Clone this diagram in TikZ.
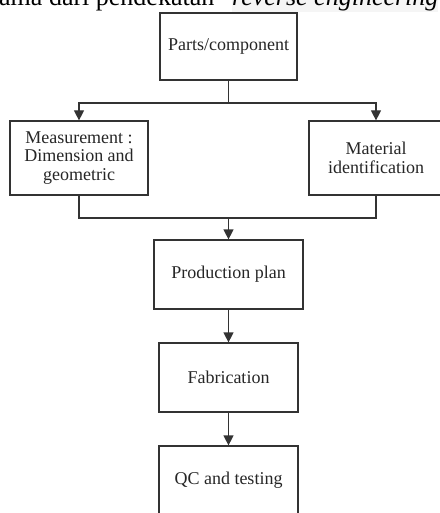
\documentclass[tikz,border=0pt]{standalone}
\usepackage{fontspec}
\setmainfont{Liberation Serif}
\usetikzlibrary{arrows.meta}
\begin{document}
\begin{tikzpicture}[x=1pt,y=-1pt,font=\fontsize{18}{18.5}\selectfont,
  blk/.style={draw=black!80,line width=1.2pt,align=center,inner sep=0pt,text=black!85},
  flow/.style={draw=black!80,line width=1.2pt,-{Triangle[width=10pt,length=10pt]}},
  link/.style={draw=black!80,line width=1.2pt}]
\useasboundingbox (0,0) rectangle (439,513);
% caption line, cut off at the top
\node[anchor=base west,inner sep=0pt,font=\fontsize{26}{30}\selectfont] (captxt) at (-1,6) {ama dari pendekatan};
\node[anchor=base west,inner sep=0pt,fill=black!4,font=\fontsize{26}{30}\selectfont\itshape] (capit) at (232,6) {reverse engineering};
% boxes
\node[blk,minimum width=137,minimum height=67] (parts) at (228.5,46.5) {Parts/component};
\node[blk,minimum width=138,minimum height=74] (meas) at (79,158) {Measurement :\\Dimension and\\geometric};
\node[blk,minimum width=134,minimum height=74] (mat) at (376,158) {Material\\identification};
\node[blk,minimum width=149,minimum height=69] (plan) at (228.5,274.5) {Production plan};
\node[blk,minimum width=139,minimum height=69] (fab) at (228.5,377.5) {Fabrication};
\node[blk,minimum width=139,minimum height=69] (qc) at (228.5,480.5) {QC and testing};
% connectors
\coordinate (split) at (228.5,103);
\coordinate (join) at (228.5,218);
\draw[link] (parts) -- (split);
\draw[flow] (split) -| (meas);
\draw[flow] (split) -| (mat);
\draw[link] (meas) |- (join);
\draw[link] (mat) |- (join);
\draw[flow] (join) -- (plan);
\draw[flow] (plan) -- (fab);
\draw[flow] (fab) -- (qc);
\end{tikzpicture}
\end{document}
